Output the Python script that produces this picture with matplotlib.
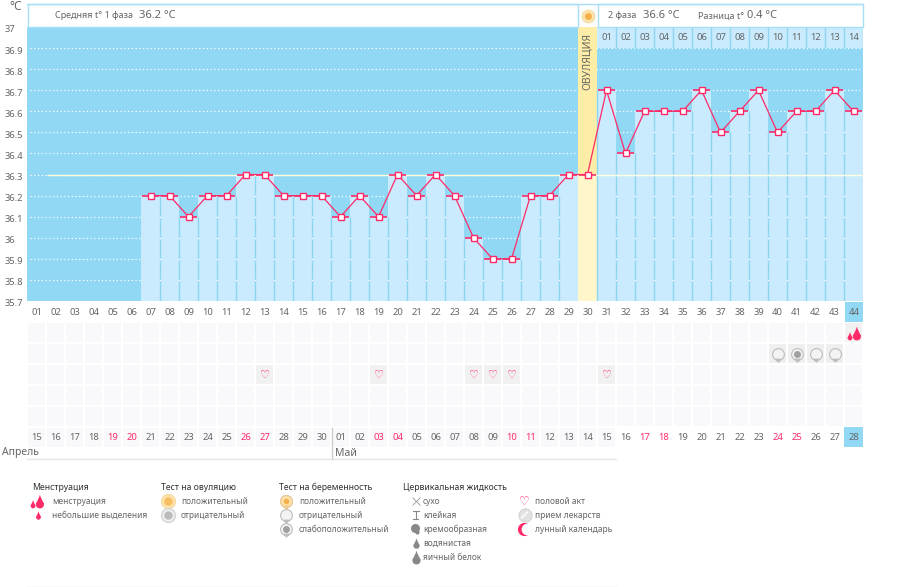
# cycle temperature chart

import numpy as np
import matplotlib
matplotlib.use('Agg')
import matplotlib.pyplot as plt
from matplotlib.patches import Rectangle
from matplotlib.path import Path
from matplotlib.transforms import Affine2D, ScaledTranslation

plt.rcParams['font.family'] = ['Noto Sans', 'DejaVu Sans']

W, H = 901, 587
BLUE = '#91d8f5'
LIGHT = '#c9ebfd'
LINE = '#8ed5f2'
RED = '#ff2a68'
GREY = '#666666'

# first six days have no temperature
days = np.arange(7, 45)
temps = [36.2, 36.2, 36.1, 36.2, 36.2, 36.3, 36.3, 36.2, 36.2, 36.2, 36.1, 36.2,
         36.1, 36.3, 36.2, 36.3, 36.2, 36.0, 35.9, 35.9, 36.2, 36.2, 36.3, 36.3,
         36.7, 36.4, 36.6, 36.6, 36.6, 36.7, 36.5, 36.6, 36.7, 36.5, 36.6, 36.6,
         36.7, 36.6]
y_ticks = [37, 36.9, 36.8, 36.7, 36.6, 36.5, 36.4, 36.3, 36.2, 36.1, 36, 35.9, 35.8, 35.7]
cycle_labels = ['%02d' % d for d in range(1, 45)]
phase2_labels = ['%02d' % d for d in range(1, 15)]
date_labels = [str(d) for d in range(15, 31)] + ['%02d' % d for d in range(1, 29)]
red_dates = [4, 5, 11, 12, 18, 19, 25, 26, 32, 33, 39, 40]   # index in date_labels
ovulation_day = 30
mean_temp = 36.3

period_days = [44]
test_days = [40, 41, 42, 43]
test_kinds = ['neg', 'weak', 'neg', 'neg']
sex_days = [13, 19, 24, 25, 26, 31]

legend_titles = ['Менструация', 'Тест на овуляцию', 'Тест на беременность', 'Цервикальная жидкость']
legend_period = ['менструация', 'небольшие выделения']
legend_ovul = ['положительный', 'отрицательный']
legend_preg = ['положительный', 'отрицательный', 'слабоположительный']
legend_fluid = ['сухо', 'клейкая', 'кремообразная', 'водянистая', 'яичный белок']
legend_other = ['половой акт', 'прием лекарств', 'лунный календарь']


def px_axes(x0, y0, x1, y1):
    return fig.add_axes([x0 / W, 1 - y1 / H, (x1 - x0) / W, (y1 - y0) / H])


DROP = Path([(0, 1), (0.15, 0.4), (0.6, -0.3), (0.6, -1), (0, -1),
             (-0.6, -1), (-0.6, -0.3), (-0.15, 0.4), (0, 1)],
            [Path.MOVETO, Path.CURVE3, Path.CURVE3, Path.CURVE3, Path.CURVE3,
             Path.CURVE3, Path.CURVE3, Path.CURVE3, Path.CURVE3])
PERIOD = Path.make_compound_path(
    DROP.transformed(Affine2D().translate(0.35, 0)),
    DROP.transformed(Affine2D().scale(0.6).translate(-0.65, -0.4)))
BUBBLE = Path.make_compound_path(
    Path.unit_circle(),
    Path([(-0.45, -0.8), (0, -1.3), (0.45, -0.8), (-0.45, -0.8)],
         [Path.MOVETO, Path.LINETO, Path.LINETO, Path.CLOSEPOLY]))


def draw_period(a, x, y, small=False):
    if small:
        a.plot(x, y, marker=DROP, ms=6, color=RED, mew=0)
    else:
        a.plot(x, y, marker=PERIOD, ms=10, color=RED, mew=0)


def draw_heart(a, x, y, size=8):
    a.text(x, y, '\u2661', color=RED, fontsize=size, ha='center', va='center',
           family='DejaVu Sans', fontweight='bold')


def draw_test(a, x, y, kind):
    a.plot(x, y, marker=BUBBLE, ms=11, mfc='#f3f3f3', mec='#bdbdbd', mew=0.8)
    if kind == 'weak':
        a.plot(x, y, marker='o', ms=5, color='#a0a0a0', mew=0)
    if kind == 'pos':
        a.plot(x, y, marker=BUBBLE, ms=11, mfc='#fde3ad', mec='#f0c88a', mew=0.8)
        a.plot(x, y, marker='o', ms=4, color='#f5b04a', mew=0)


fig = plt.figure(figsize=(W / 100, H / 100), dpi=100, facecolor='white')

# main chart
ax = px_axes(27, 27, 863, 301)
ax.set_xlim(0.5, 44.5)
ax.set_ylim(35.7, 37)
ax.set_facecolor(BLUE)
for s in ax.spines.values():
    s.set_visible(False)

for v in y_ticks[1:]:
    ax.hlines(v, 0.65, 44.5, color='white', lw=0.9, ls=(0, (1, 2)), zorder=1)
ax.hlines(mean_temp, 1.55, 44.5, color='#fffde0', lw=1, zorder=2.6)

ax.bar(days, np.array(temps) - 35.7, bottom=35.7, width=1, color=LIGHT, lw=0, zorder=2)

# ovulation column
ax.bar(ovulation_day, 37 - mean_temp, bottom=mean_temp, width=1, color='#fdeda6', lw=0, zorder=2.2)
ax.bar(ovulation_day, mean_temp - 35.7, bottom=35.7, width=1, color='#fff6c9', lw=0, zorder=2.2)
ax.text(ovulation_day, 36.97, 'ОВУЛЯЦИЯ', rotation=90, ha='center', va='top',
        color=GREY, fontsize=7.5, zorder=5)

# second phase header band
ax.bar(days[days > ovulation_day], 0.1, bottom=36.9, width=1, color=LIGHT, lw=0, zorder=2)
for d, lab in zip(range(31, 45), phase2_labels):
    ax.text(d, 36.95, lab, ha='center', va='center', color=GREY, fontsize=6.8, zorder=5)
for d in range(31, 45):
    ax.vlines(d + 0.5, 36.9, 37, color=LINE, lw=1, zorder=3)

# lines between the columns, white dots where the grid crosses them
for i in range(len(days) - 1):
    if days[i] in (ovulation_day - 1, ovulation_day):
        continue
    top = min(temps[i], temps[i + 1])
    ax.vlines(days[i] + 0.5, 35.7, top, color=LINE, lw=1, zorder=2.4)
    dots = [v for v in y_ticks[1:-1] if v < top]
    ax.plot([days[i] + 0.5] * len(dots), dots, ls='none', marker='s', ms=1, color='white',
            mew=0, zorder=2.5)
ax.vlines(ovulation_day + 0.5, 35.7, temps[ovulation_day - 6], color=LINE, lw=1, zorder=2.4)

# temperature curve
ax.hlines(temps, days - 0.46, days + 0.46, color=RED, lw=1.2, zorder=3)
ax.plot(days, temps, color=RED, lw=0.9, zorder=3.5)
ax.plot(days, temps, ls='none', marker='s', ms=4.2, mfc='white', mec=RED, mew=1, zorder=4)

ax.set_xticks(np.arange(1, 45))
ax.set_xticklabels(cycle_labels, fontsize=6.8, color=GREY)
ax.set_yticks(y_ticks)
ax.set_yticklabels(['%g' % v for v in y_ticks], fontsize=6.8, color=GREY)
ax.tick_params(axis='both', length=0)
ax.tick_params(axis='x', pad=5)
ax.tick_params(axis='y', pad=16)
shift = ScaledTranslation(0, -2 / 100, fig.dpi_scale_trans)
for lab in ax.get_yticklabels():
    lab.set_horizontalalignment('left')
    lab.set_transform(lab.get_transform() + shift)

# rows of cells under the chart
grid = px_axes(27, 322, 863, 448)
grid.set_xlim(0.5, 44.5)
grid.set_ylim(6, 0)
grid.axis('off')
for r in range(6):
    for c in range(1, 45):
        if r == 5 and c > 31:
            continue
        grid.add_patch(Rectangle((c - 0.46, r + 0.04), 0.92, 0.92, color='#f9f9fb', lw=0))

for d in period_days:
    grid.add_patch(Rectangle((d - 0.46, 0.04), 0.92, 0.92, color='#f1f1f1', lw=0))
    draw_period(grid, d, 0.5)
for d, k in zip(test_days, test_kinds):
    grid.add_patch(Rectangle((d - 0.46, 1.04), 0.92, 0.92, color='#efefef', lw=0))
    draw_test(grid, d, 1.5, k)
for d in sex_days:
    grid.add_patch(Rectangle((d - 0.46, 2.04), 0.92, 0.92, color='#f1f1f1', lw=0))
    draw_heart(grid, d, 2.5)

grid.add_patch(Rectangle((43.5, 5), 1, 0.95, color=BLUE, lw=0))
for i, lab in enumerate(date_labels):
    grid.text(i + 1, 5.5, lab, ha='center', va='center', fontsize=6.8,
              color=RED if i in red_dates else GREY)

# today marker on the cycle number row
today = px_axes(845, 302, 863, 322)
today.set_facecolor(BLUE)
today.set_xticks([])
today.set_yticks([])
for s in today.spines.values():
    s.set_visible(False)
today.text(0.5, 0.47, cycle_labels[-1], transform=today.transAxes, ha='center', va='center',
           fontsize=6.8, color=GREY)

# header, months and legend in pixel coordinates
over = px_axes(0, 0, W, H)
over.set_xlim(0, W)
over.set_ylim(H, 0)
over.axis('off')
over.patch.set_alpha(0)

over.add_patch(Rectangle((27.5, 3.5), 550, 23.5, fc='white', ec='#a7dff5', lw=1))
over.add_patch(Rectangle((597.5, 3.5), 265, 23.5, fc='white', ec='#a7dff5', lw=1))
over.plot([27, 863], [3.5, 3.5], color='#a7dff5', lw=1)
over.plot(588, 16, marker='o', ms=9, mfc='#fde3ad', mec='#f5dfa8', mew=1)
over.plot(588, 16, marker='o', ms=5, color='#f5b04a', mew=0)

over.text(9, 6, '°C', fontsize=8.5, color=GREY, va='center')
over.text(55, 16, 'Средняя t° 1 фаза', fontsize=6.5, color=GREY, va='center')
over.text(139, 15.5, '36.2 °C', fontsize=8, color=GREY, va='center')
over.text(608, 16, '2 фаза', fontsize=6.5, color=GREY, va='center')
over.text(643, 15.5, '36.6 °C', fontsize=8, color=GREY, va='center')
over.text(698, 16, 'Разница t°', fontsize=6.5, color=GREY, va='center')
over.text(747, 15.5, '0.4 °C', fontsize=8, color=GREY, va='center')

over.text(2, 453, 'Апрель', fontsize=7.5, color=GREY, va='center')
over.text(335, 453, 'Май', fontsize=7.5, color=GREY, va='center')
over.plot([27, 616], [458.5, 458.5], color='#e6e6e6', lw=1)
over.plot([331.5, 331.5], [428, 458], color='#cccccc', lw=1)
over.plot([27, 616], [586.5, 586.5], color='#e6e6e6', lw=1)

rows = [501, 515, 529, 543, 557]
for x, t in zip([32, 161, 279, 403], legend_titles):
    over.text(x, 487, t, fontsize=6.25, color='#333333', va='center', fontweight='medium')
for x, labs in zip([52, 181, 299, 423, 535],
                   [legend_period, legend_ovul, legend_preg, legend_fluid, legend_other]):
    for y, t in zip(rows, labs):
        over.text(x, y, t, fontsize=6.05, color=GREY, va='center')

draw_period(over, 37, rows[0])
draw_period(over, 37.5, rows[1], small=True)

over.plot(167.5, rows[0], marker='o', ms=10, mfc='#fde3ad', mec='#f7dca0', mew=1)
over.plot(167.5, rows[0], marker='o', ms=6, color='#f7bd62', mew=0)
over.plot(167.5, rows[1], marker='o', ms=10, mfc='#eeeeee', mec='#d5d5d5', mew=1)
over.plot(167.5, rows[1], marker='o', ms=6, color='#bbbbbb', mew=0)

draw_test(over, 286, rows[0], 'pos')
draw_test(over, 286, rows[1], 'neg')
draw_test(over, 286, rows[2], 'weak')

over.plot(415.5, rows[0], marker='x', ms=6, color='#999999', mew=0.6)
over.plot([412.5, 418.5], [rows[1] - 4, rows[1] - 4], color='#888888', lw=0.8)
over.plot([415.5, 415.5], [rows[1] - 4, rows[1] + 4], color='#888888', lw=0.8)
over.plot([413, 418], [rows[1] + 4, rows[1] + 4], color='#888888', lw=0.8)
over.plot(414.5, rows[2] - 1, marker='o', ms=6.5, color='#888888', mew=0)
over.plot(416.5, rows[2] + 3, marker='o', ms=3, color='#888888', mew=0)
over.plot(415.5, rows[3], marker=DROP, ms=7.5, color='#888888', mew=0)
over.plot(415.5, rows[4], marker=DROP, ms=10, color='#888888', mew=0)

draw_heart(over, 524.5, rows[0], size=8.5)
over.plot(524.5, rows[1], marker='o', ms=9.5, mfc='#e2e2e2', mec='#cccccc', mew=0.6)
over.plot([521.5, 527.5], [rows[1] + 3, rows[1] - 3], color='white', lw=1)
over.plot(524, rows[2], marker='o', ms=9.5, color=RED, mew=0)
over.plot(527, rows[2], marker='o', ms=8.5, color='#fdfdfd', mew=0)

fig.savefig('out.png', dpi=100, facecolor='white')
